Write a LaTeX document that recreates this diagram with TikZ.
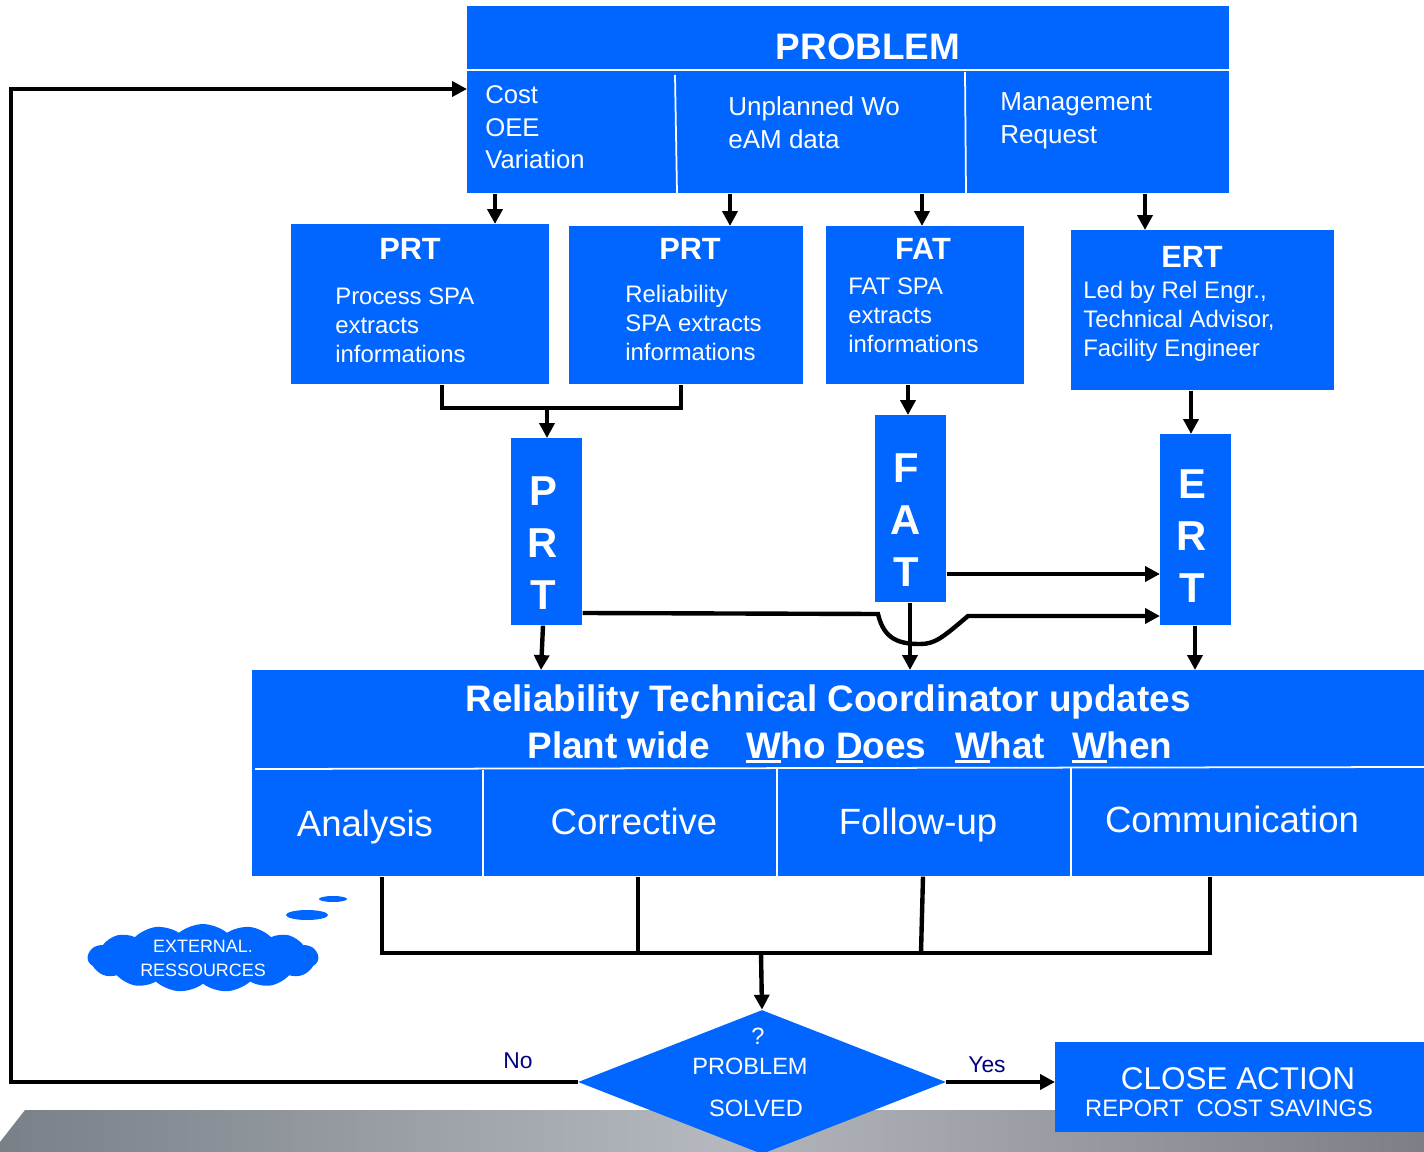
\documentclass[tikz,border=0pt]{standalone}
\usepackage{fontspec}
\setmainfont{Liberation Sans}
\usepackage{xcolor}
\usetikzlibrary{shapes.geometric,shapes.symbols,arrows.meta,calc}

\definecolor{probblue}{HTML}{0066FF}
\definecolor{labelnavy}{HTML}{000080}
\definecolor{bandleft}{HTML}{798087}
\definecolor{bandmid}{HTML}{B4B7BE}
\definecolor{bandright}{HTML}{7C7F85}

\newcommand{\fsz}[2]{\fontsize{#1}{#2}\selectfont}
\newcommand{\firstul}[1]{\setbox0=\hbox{#1}\rlap{\rule[-2.8pt]{\wd0}{1.6pt}}\box0}

\begin{document}
\begin{tikzpicture}[x=0.02cm,y=-0.02cm,
      block/.style={
        rectangle,
        fill=probblue,
        inner sep=0pt,
        anchor=north west
      },
      head/.style={text=white,font=\bfseries\fsz{17.5}{21},anchor=base,inner sep=0pt},
      body/.style={text=white,align=left,anchor=west,inner sep=0pt,font=\fsz{13.6}{16.4}},
      letters/.style={text=white,align=center,font=\bfseries\fsz{23.8}{29.5},inner sep=0pt},
      colname/.style={text=white,font=\fsz{20.8}{25},anchor=base,inner sep=0pt},
      small/.style={text=white,font=\fsz{13.4}{16},anchor=base,inner sep=0pt},
      answer/.style={text=labelnavy,font=\fsz{13}{15},anchor=base,inner sep=0pt},
      divider/.style={draw=white,line width=1pt},
      arrow/.style={-{Triangle[length=8.5pt,width=8.5pt]},line width=2.5pt,draw=black},
      link/.style={line width=2.5pt,draw=black}
    ]
    \useasboundingbox (0,0) rectangle (1424,1152);

    % Floor band
    \shade[left color=bandleft,right color=bandright,middle color=bandmid]
      (25,1110) -- (1424,1110) -- (1424,1152) -- (0,1152) -- (0,1142) -- cycle;

    % Problem sources
    \node[block,minimum width=15.24cm,minimum height=3.74cm] (problem) at (467,6) {};
    \draw[divider] (467,70) -- (1229,70);
    \draw[divider] (675,75) -- (677,193);
    \draw[divider] (965,72) -- (966,193);
    \node[head,font=\bfseries\fsz{21}{25}] (probtitle) at (868,60) {PROBLEM};
    \node[body,font=\fsz{14.6}{18.4}] (costtxt) at (485,127.5) {Cost\\OEE\\Variation};
    \node[body,font=\fsz{14.8}{18.7}] (unpltxt) at (728,122.5) {Unplanned Wo\\eAM data};
    \node[body,font=\fsz{14.8}{18.7}] (mgmttxt) at (1000,121) {Management\\Request};

    % Teams
    \node[block,minimum width=5.16cm,minimum height=3.2cm] (prtproc) at (291,224) {};
    \node[block,minimum width=4.68cm,minimum height=3.16cm] (prtrel) at (569,226) {};
    \node[block,minimum width=3.96cm,minimum height=3.16cm] (fatspa) at (826,226) {};
    \node[block,minimum width=5.26cm,minimum height=3.2cm] (ertled) at (1071,230) {};

    \node[head] (prtproctitle) at (410,260) {PRT};
    \node[body] (prtproctxt) at (335,325) {Process SPA\\extracts\\informations};
    \node[head] (prtreltitle) at (690,260) {PRT};
    \node[body] (prtreltxt) at (625,323) {Reliability\\SPA extracts\\informations};
    \node[head] (fatspatitle) at (923,260) {FAT};
    \node[body] (fatspatxt) at (848,315) {FAT SPA\\extracts\\informations};
    \node[head] (ertledtitle) at (1192,268) {ERT};
    \node[body] (ertledtxt) at (1083,321.5) {Led by Rel Engr.,\\Technical Advisor,\\Facility Engineer};

    \draw[arrow] (problem.south -| 495,0) -- (prtproc.north -| 495,0);
    \draw[arrow] (problem.south -| 730,0) -- (prtrel.north -| 730,0);
    \draw[arrow] (problem.south -| 922,0) -- (fatspa.north -| 922,0);
    \draw[arrow] (problem.south -| 1145,0) -- (ertled.north -| 1145,0);

    % Vertical team columns
    \node[block,minimum width=1.42cm,minimum height=3.74cm] (prtcol) at (511,438) {};
    \node[block,minimum width=1.42cm,minimum height=3.74cm] (fatcol) at (875,415) {};
    \node[block,minimum width=1.42cm,minimum height=3.82cm] (ertcol) at (1160,434) {};
    \node[letters] (prtletters) at (543,543) {P\\R\\T};
    \node[letters] (fatletters) at (906,520) {F\\A\\T};
    \node[letters] (ertletters) at (1192,536) {E\\R\\T};

    \coordinate (prtjoin) at (547,408);
    \draw[link] (prtproc.south -| 442,0) |- (prtjoin) -| (prtrel.south -| 681,0);
    \draw[arrow] (prtjoin) -- (prtcol.north -| prtjoin);
    \draw[arrow] (fatspa.south -| 908,0) -- (fatcol.north -| 908,0);
    \draw[arrow] (ertled.south -| 1191,0) -- (ertcol.north -| 1191,0);

    \draw[arrow] (fatcol.east |- 0,574) -- (ertcol.west |- 0,574);
    \draw[arrow] (prtcol.east |- 0,613) -- (878,614)
      .. controls (884,640) and (900,644) .. (920,644)
      .. controls (935,644) and (942,638) .. (968,616) -- (ertcol.west |- 0,616);

    % Coordinator
    \node[block,minimum width=23.44cm,minimum height=4.12cm] (rtc) at (252,670) {};
    \draw[divider] (255,769) -- (1424,767);
    \draw[divider] (483,770) -- (483,876);
    \draw[divider] (777,769) -- (777,876);
    \draw[divider] (1071,768) -- (1071,876);
    \node[head,font=\bfseries\fsz{21}{25}] (rtctitle) at (828,711) {Reliability Technical Coordinator updates};
    \node[head,font=\bfseries\fsz{21}{25}] (rtcsub) at (850,758)
      {Plant wide\hspace{0.7em} \firstul{W}ho \firstul{D}oes\hspace{0.5em} \firstul{W}hat\hspace{0.45em} \firstul{W}hen};
    \node[colname] (analysis) at (365,836) {Analysis};
    \node[colname] (corrective) at (634,834) {Corrective};
    \node[colname] (followup) at (918,834) {Follow-up};
    \node[colname] (communic) at (1232,832) {Communication};

    \draw[arrow] (prtcol.south -| 543,0) -- (rtc.north -| 541,0);
    \draw[arrow] (fatcol.south -| 910,0) -- (rtc.north -| 910,0);
    \draw[arrow] (ertcol.south -| 1195,0) -- (rtc.north -| 1195,0);

    % Outcome
    \coordinate (outjoin) at (761,953);
    \draw[link] (rtc.south -| 382,0) |- (1210,953) -- (rtc.south -| 1210,0);
    \draw[link] (rtc.south -| 638,0) -- (638,953);
    \draw[link] (rtc.south -| 923,0) -- (921,953);

    \node[diamond,fill=probblue,inner sep=0pt,minimum width=7.36cm,minimum height=2.88cm] (decision) at (762,1082) {};
    \node[small] (qmark) at (758,1044) {?};
    \node[small] (qprob) at (750,1074.5) {PROBLEM};
    \node[small] (qsolved) at (756,1116.5) {SOLVED};
    \draw[arrow] (outjoin) -- (decision.north);

    \node[block,minimum width=7.38cm,minimum height=1.8cm] (closeact) at (1055,1042) {};
    \node[small,font=\fsz{17.9}{21}] (closetitle) at (1238,1089) {CLOSE ACTION};
    \node[small,font=\fsz{13.5}{16}] (closetxt) at (1229,1116.5) {REPORT~~COST SAVINGS};
    \draw[arrow] (decision.east) -- (closeact.west |- decision.east);
    \node[answer] (yeslabel) at (987,1072) {Yes};

    \coordinate (loopbot) at (11,1082);
    \coordinate (looptop) at (11,89);
    \draw[arrow] (decision.west) -- (loopbot) -- (looptop) -- (problem.west |- looptop);
    \node[answer] (nolabel) at (518,1068) {No};

    % External help
    \node[cloud,cloud puffs=15,cloud puff arc=80,aspect=4.5,fill=probblue,inner sep=0pt,
      minimum width=4.6cm,minimum height=1.05cm,text=white,align=center,
      font=\fsz{10.2}{13.6}] (extres) at (203,958) {EXTERNAL.\\RESSOURCES};
    \fill[probblue] (307,915) ellipse [x radius=0.42cm,y radius=0.1cm];
    \fill[probblue] (333,899) ellipse [x radius=0.28cm,y radius=0.06cm];
  \end{tikzpicture}
\end{document}
